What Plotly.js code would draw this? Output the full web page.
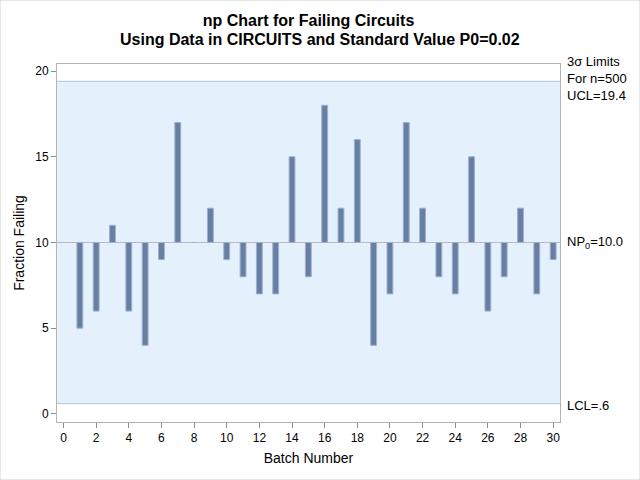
<!DOCTYPE html>
<html>
<head>
<meta charset="utf-8">
<script src="https://cdn.plot.ly/plotly-3.0.1.min.js"></script>
<style>html,body{margin:0;padding:0;background:#fff;}#chart{width:640px;height:480px;}</style>
</head>
<body>
<div id="chart"></div>
<script>
// Data
const batches = [1,2,3,4,5,6,7,8,9,10,11,12,13,14,15,16,17,18,19,20,21,22,23,24,25,26,27,28,29,30];
const failing = [5,6,11,6,4,9,17,10,12,9,8,7,7,15,8,18,12,16,4,7,17,12,8,7,15,6,8,12,7,9];
const centerLine = 10.0;
const ucl = 19.4;
const lcl = 0.6;
const xTicks = [0,2,4,6,8,10,12,14,16,18,20,22,24,26,28,30];
const yTicks = [0,5,10,15,20];
const titleLine1 = 'np Chart for Failing Circuits';
const titleLine2 = 'Using Data in CIRCUITS and Standard Value P0=0.02';

const font = 'Arial, "Liberation Sans", sans-serif';

const trace = {
  type: 'bar',
  x: batches,
  y: failing.map(v => v - centerLine),
  base: failing.map(() => centerLine),
  width: 0.36,
  marker: {color: '#667fa2', line: {color: '#9fb2cc', width: 1}},
  hoverinfo: 'skip'
};

const layout = {
  width: 640, height: 480,
  margin: {l: 57, r: 80, t: 64, b: 58},
  paper_bgcolor: '#ffffff',
  plot_bgcolor: '#ffffff',
  showlegend: false,
  bargap: 0,
  font: {family: font, size: 12, color: '#000'},
  title: {
    text: '<b>' + titleLine1 + '</b>',
    font: {family: font, size: 16, color: '#000'},
    x: 0.5, xanchor: 'center', xref: 'paper',
    yref: 'container', y: 1 - 20/480, yanchor: 'middle'
  },
  xaxis: {
    range: [-0.4, 30.42],
    tickvals: xTicks,
    ticks: 'outside', ticklen: 5, tickcolor: '#8c8c8c', tickwidth: 1,
    showline: true, linecolor: '#b4b4b4', linewidth: 1, mirror: true,
    showgrid: false, zeroline: false,
    tickfont: {family: font, size: 12, color: '#000'},
    title: {text: 'Batch Number', font: {family: font, size: 14, color: '#000'}, standoff: 8}
  },
  yaxis: {
    range: [-0.47, 20.41],
    tickvals: yTicks,
    ticks: 'outside', ticklen: 5, tickcolor: '#8c8c8c', tickwidth: 1,
    showline: true, linecolor: '#b4b4b4', linewidth: 1, mirror: true,
    showgrid: false, zeroline: false,
    tickfont: {family: font, size: 12, color: '#000'},
    title: {text: 'Fraction Failing', font: {family: font, size: 14, color: '#000'}, standoff: 7}
  },
  shapes: [
    {type: 'rect', xref: 'paper', yref: 'y', x0: 0, x1: 1, y0: lcl, y1: ucl,
     fillcolor: '#e5f0fd', line: {width: 0}, layer: 'below'},
    {type: 'line', xref: 'paper', yref: 'y', x0: 0, x1: 1, y0: ucl, y1: ucl,
     line: {color: '#b7c4d4', width: 1}, layer: 'below'},
    {type: 'line', xref: 'paper', yref: 'y', x0: 0, x1: 1, y0: lcl, y1: lcl,
     line: {color: '#b7c4d4', width: 1}, layer: 'below'},
    {type: 'line', xref: 'paper', yref: 'y', x0: 0, x1: 1, y0: centerLine, y1: centerLine,
     line: {color: '#b9bcc2', width: 1}, layer: 'below'},
    {type: 'rect', xref: 'paper', yref: 'paper', x0: -57/503, x1: 1 + 80/503, y0: -58/358, y1: 1 + 64/358,
     line: {color: '#d0d0d0', width: 1}, fillcolor: 'rgba(0,0,0,0)'}
  ],
  annotations: [
    {xref: 'paper', yref: 'paper', x: 0.5 + (320 - 57 - 251.5) / 503, y: 1 + (422 - 64 - 0) / 358 * 0 + (64 - 39) / 358,
     xanchor: 'center', yanchor: 'middle', showarrow: false,
     text: '<b>' + titleLine2 + '</b>',
     font: {family: font, size: 16, color: '#000'}},
    {xref: 'paper', yref: 'y', x: 1, y: ucl, xanchor: 'left', yanchor: 'middle', xshift: 5, yshift: 3,
     align: 'left', showarrow: false,
     text: '3σ Limits<br>For n=' + 500 + '<br>UCL=' + ucl.toFixed(1),
     font: {family: font, size: 13, color: '#000'}},
    {xref: 'paper', yref: 'y', x: 1, y: centerLine, xanchor: 'left', yanchor: 'middle', xshift: 5, yshift: 0,
     showarrow: false, text: 'NP<sub>0</sub>=' + centerLine.toFixed(1),
     font: {family: font, size: 13, color: '#000'}},
    {xref: 'paper', yref: 'y', x: 1, y: lcl, xanchor: 'left', yanchor: 'middle', xshift: 5, yshift: -2,
     showarrow: false, text: 'LCL=.6',
     font: {family: font, size: 13, color: '#000'}}
  ]
};

Plotly.newPlot('chart', [trace], layout, {displayModeBar: false, staticPlot: true});
</script>
</body>
</html>
